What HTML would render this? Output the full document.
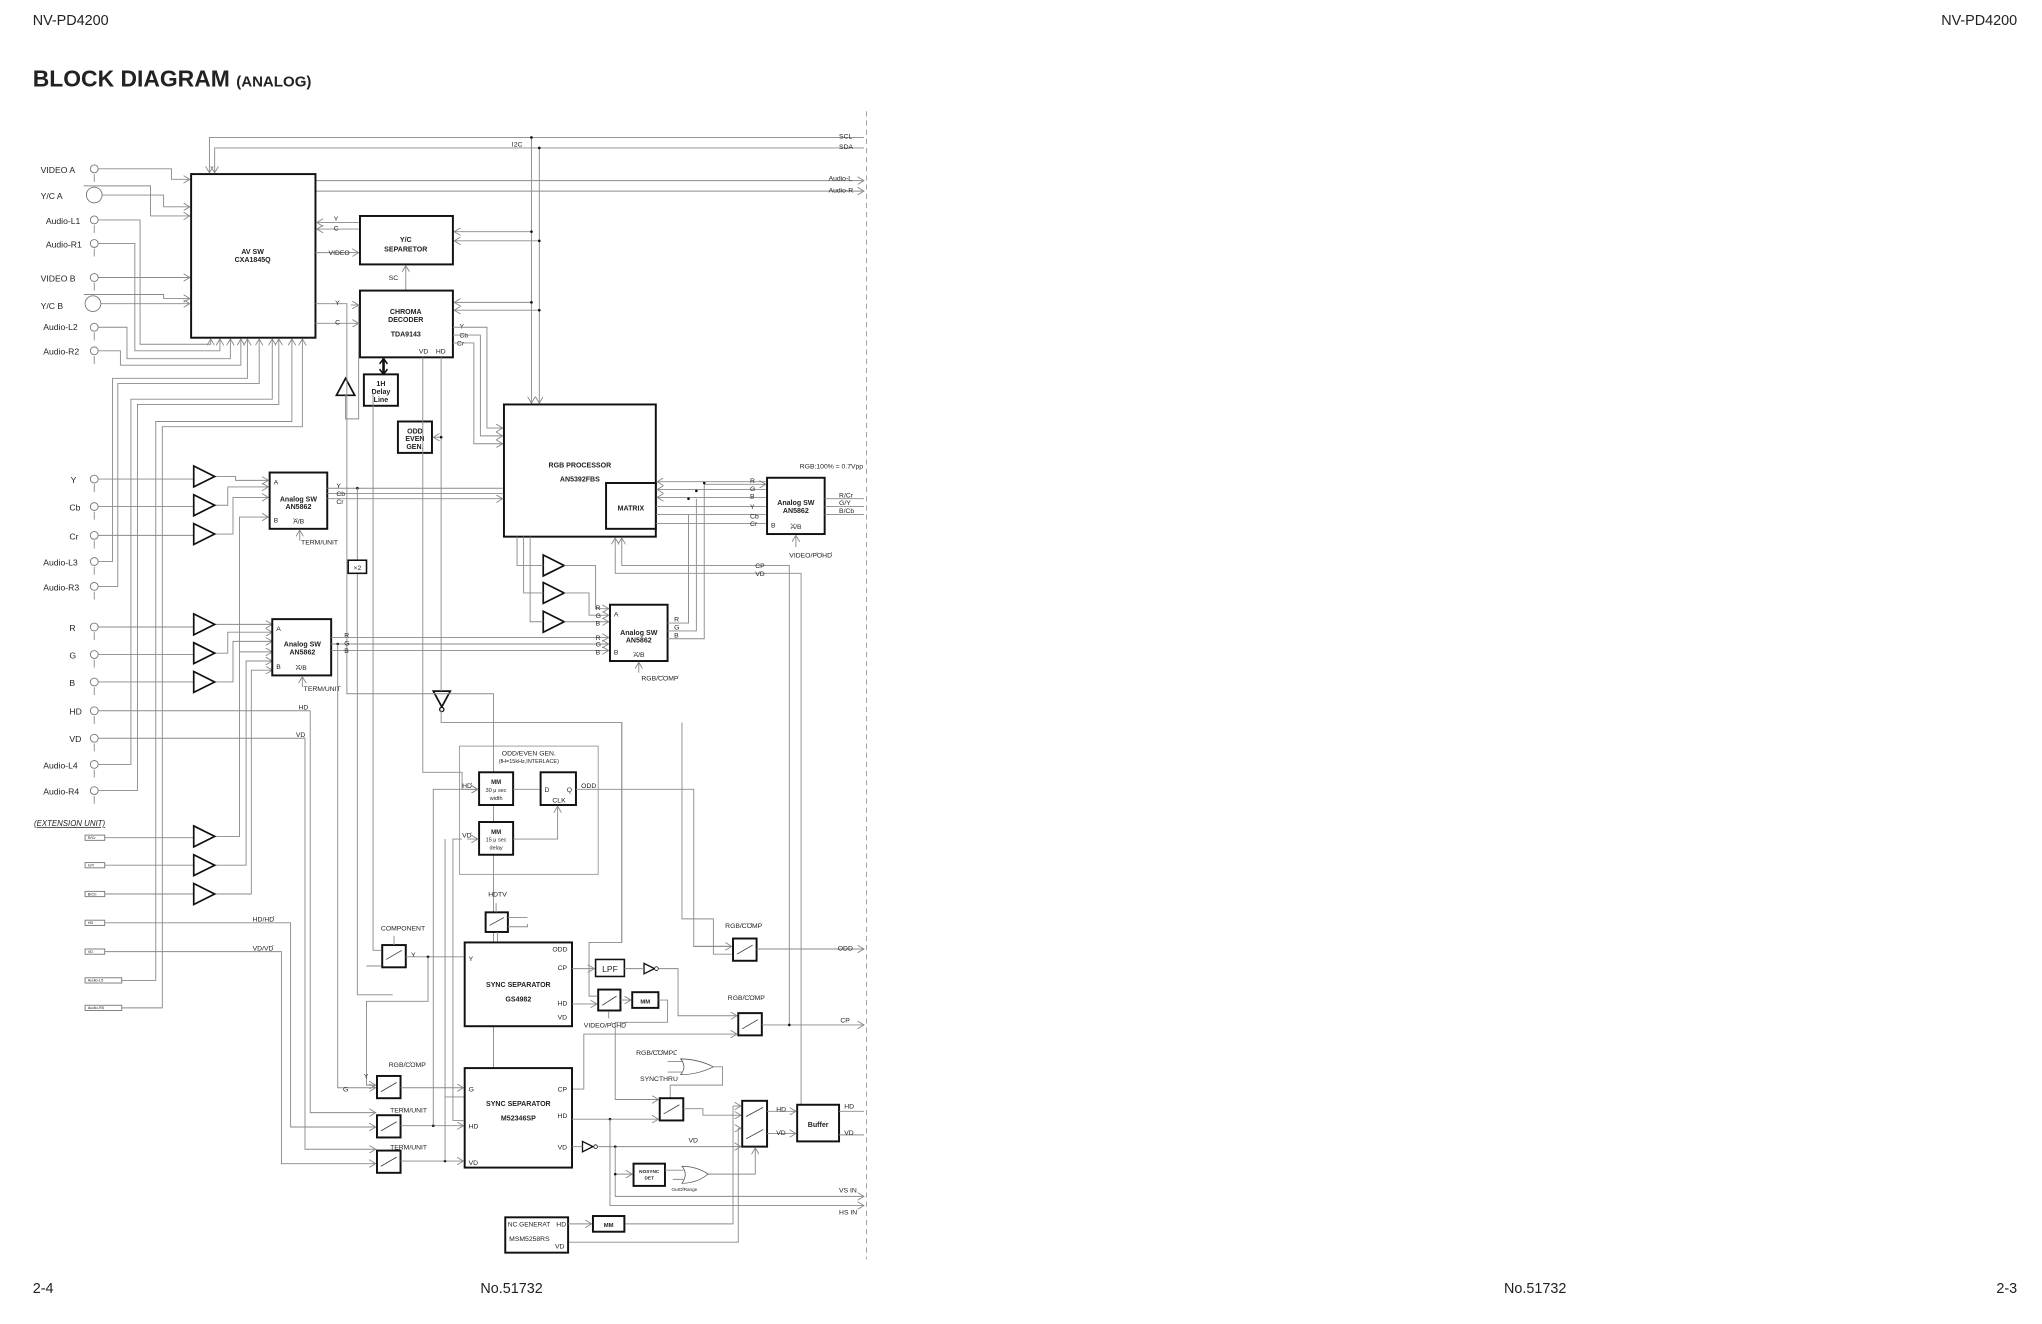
<!DOCTYPE html>
<html><head><meta charset="utf-8"><style>
html,body{margin:0;padding:0;background:#fff}
svg{display:block}
text{font-family:"Liberation Sans",sans-serif;fill:#222}
.w{fill:none;stroke:#8a8a8a;stroke-width:.7}
.b{fill:#fff;stroke:#111;stroke-width:1.5}
.t{font-size:5.2px}
.l{font-size:6.6px}
.bt{font-size:5.4px;font-weight:bold}
.tri{fill:#fff;stroke:#111;stroke-width:1.3}
</style></head><body>
<svg width="2042" height="1324" viewBox="0 0 1560 1011.5" preserveAspectRatio="none" xmlns="http://www.w3.org/2000/svg">
<defs>
<marker id="a" markerWidth="6" markerHeight="6" refX="5" refY="3" orient="auto" markerUnits="userSpaceOnUse"><path d="M0,0 L5,3 L0,6" fill="none" stroke="#888" stroke-width=".7"/></marker>
</defs>
<text x="25" y="19" style="font-size:11px">NV-PD4200</text>
<text x="1541" y="19" text-anchor="end" style="font-size:11px">NV-PD4200</text>
<text x="25" y="66" style="font-size:17.5px;font-weight:bold">BLOCK DIAGRAM <tspan style="font-size:11.5px">(ANALOG)</tspan></text>
<text x="25" y="988" style="font-size:11px">2-4</text>
<text x="367" y="988" style="font-size:11px">No.51732</text>
<text x="1149" y="988" style="font-size:11px">No.51732</text>
<text x="1541" y="988" text-anchor="end" style="font-size:11px">2-3</text>
<line x1="662" y1="85" x2="662" y2="962" stroke="#999" stroke-width=".7" stroke-dasharray="4,3"/>

<!-- top bus -->
<path class="w" d="M660,105 H160 V132" marker-end="url(#a)"/>
<path class="w" d="M660,113 H164 V132" marker-end="url(#a)"/>
<path class="w" d="M406,105 V308" marker-end="url(#a)"/>
<path class="w" d="M412,113 V308" marker-end="url(#a)"/>
<path class="w" d="M406,177 H347" marker-end="url(#a)"/><path class="w" d="M412,184 H347" marker-end="url(#a)"/>
<path class="w" d="M406,231 H347" marker-end="url(#a)"/><path class="w" d="M412,237 H347" marker-end="url(#a)"/>
<g fill="#111"><circle cx="406" cy="105" r="1"/><circle cx="412" cy="113" r="1"/><circle cx="406" cy="177" r="1"/><circle cx="412" cy="184" r="1"/><circle cx="406" cy="231" r="1"/><circle cx="412" cy="237" r="1"/></g>
<text x="641" y="106" class="t">SCL</text><text x="641" y="114" class="t">SDA</text><text x="391" y="112" class="t">I2C</text>
<path class="w" d="M241,138 H660" marker-end="url(#a)"/><path class="w" d="M241,146 H660" marker-end="url(#a)"/>
<text x="633" y="138" class="t">Audio-L</text><text x="633" y="147" class="t">Audio-R</text>

<!-- left inputs -->
<g class="l">
<text x="31" y="132">VIDEO A</text><text x="31" y="152">Y/C A</text><text x="35" y="171">Audio-L1</text><text x="35" y="189">Audio-R1</text>
<text x="31" y="215">VIDEO B</text><text x="31" y="236">Y/C B</text><text x="33" y="252">Audio-L2</text><text x="33" y="271">Audio-R2</text>
<text x="54" y="369">Y</text><text x="53" y="390">Cb</text><text x="53" y="412">Cr</text><text x="33" y="432">Audio-L3</text><text x="33" y="451">Audio-R3</text>
<text x="53" y="482">R</text><text x="53" y="503">G</text><text x="53" y="524">B</text><text x="53" y="546">HD</text><text x="53" y="567">VD</text>
<text x="33" y="587">Audio-L4</text><text x="33" y="607">Audio-R4</text>
</g>
<text x="26" y="631" style="font-size:6px;font-style:italic;text-decoration:underline">(EXTENSION UNIT)</text>
<g fill="#fff" stroke="#777" stroke-width=".7">
<circle cx="72" cy="129" r="3"/><circle cx="72" cy="149" r="6"/><circle cx="72" cy="168" r="3"/><circle cx="72" cy="186" r="3"/>
<circle cx="72" cy="212" r="3"/><circle cx="71" cy="232" r="6"/><circle cx="72" cy="250" r="3"/><circle cx="72" cy="268" r="3"/>
<circle cx="72" cy="366" r="3"/><circle cx="72" cy="387" r="3"/><circle cx="72" cy="409" r="3"/><circle cx="72" cy="429" r="3"/><circle cx="72" cy="448" r="3"/>
<circle cx="72" cy="479" r="3"/><circle cx="72" cy="500" r="3"/><circle cx="72" cy="521" r="3"/><circle cx="72" cy="543" r="3"/><circle cx="72" cy="564" r="3"/>
<circle cx="72" cy="584" r="3"/><circle cx="72" cy="604" r="3"/>
<rect x="65" y="638" width="15" height="4"/><rect x="65" y="659" width="15" height="4"/><rect x="65" y="681" width="15" height="4"/><rect x="65" y="703" width="15" height="4"/><rect x="65" y="725" width="15" height="4"/><rect x="65" y="747" width="28" height="4"/><rect x="65" y="768" width="28" height="4"/>
</g>
<g class="w">
<path d="M72,133 v6 M72,190 v6 M72,172 v6 M72,216 v6 M72,254 v6 M72,272 v6 M72,370 v6 M72,391 v6 M72,413 v6 M72,433 v6 M72,452 v6 M72,483 v6 M72,504 v6 M72,525 v6 M72,547 v6 M72,568 v6 M72,588 v6 M72,608 v6"/>
<path d="M75,129 H131 V137 H145" marker-end="url(#a)"/>
<path d="M78,149 H125 V158 H145" marker-end="url(#a)"/>
<path d="M64,142 H115 V165 H145" marker-end="url(#a)"/>
<path d="M75,212 H145" marker-end="url(#a)"/>
<path d="M64,225 H125 V228 H145" marker-end="url(#a)"/>
<path d="M77,232 H145" marker-end="url(#a)"/>
<path d="M75,168 H107 V263 H161 V259" marker-end="url(#a)"/>
<path d="M75,186 H103 V268 H168 V259" marker-end="url(#a)"/>
<path d="M75,250 H97 V274 H176 V259" marker-end="url(#a)"/>
<path d="M75,268 H92 V279 H184 V259" marker-end="url(#a)"/>
<path d="M75,429 H86 V289 H189 V259" marker-end="url(#a)"/>
<path d="M75,448 H90 V293 H198 V259" marker-end="url(#a)"/>
<path d="M75,584 H100 V305 H208 V259" marker-end="url(#a)"/>
<path d="M75,604 H105 V309 H213 V259" marker-end="url(#a)"/>
<path d="M93,749 H119 V322 H223 V259" marker-end="url(#a)"/>
<path d="M93,770 H124 V326 H231 V259" marker-end="url(#a)"/>
<path d="M75,366 H148 M75,387 H148 M75,409 H148 M75,479 H148 M75,500 H148 M75,521 H148 M80,640 H148 M80,661 H148 M80,683 H148"/>
<path d="M164,364 H180 V367 H205" marker-end="url(#a)"/>
<path d="M164,386 H174 V372 H205" marker-end="url(#a)"/>
<path d="M164,408 H178 V380 H205" marker-end="url(#a)"/>
<path d="M164,477 H208" marker-end="url(#a)"/>
<path d="M164,499 H174 V483 H208" marker-end="url(#a)"/>
<path d="M164,521 H178 V490 H208" marker-end="url(#a)"/>
<path d="M164,639 H183 V395 H205" marker-end="url(#a)"/>
<path d="M164,661 H188 V505 H208" marker-end="url(#a)"/>
<path d="M164,683 H192 V512 H208" marker-end="url(#a)"/>
<path d="M183,498 H208" marker-end="url(#a)"/>
<path d="M75,543 H237 V850 H287" marker-end="url(#a)"/>
<path d="M75,564 H233 V878 H287" marker-end="url(#a)"/>
<path d="M80,705 H222 V861 H287" marker-end="url(#a)"/>
<path d="M80,727 H215 V889 H287" marker-end="url(#a)"/>
</g>
<text x="228" y="542" class="t">HD</text><text x="226" y="563" class="t">VD</text>
<text x="193" y="704" class="t">HD/<tspan text-decoration="overline">HD</tspan></text><text x="193" y="726" class="t">VD/<tspan text-decoration="overline">VD</tspan></text>
<g style="font-size:3px" fill="#555"><text x="67" y="641">R/Cr</text><text x="67" y="662">G/Y</text><text x="67" y="684">B/Cb</text><text x="67" y="706">HD</text><text x="67" y="728">VD</text><text x="67" y="750">Audio-L5</text><text x="67" y="771">Audio-R5</text></g>

<!-- triangles -->
<g class="tri">
<path d="M148,356 L164,364 L148,372Z"/><path d="M148,378 L164,386 L148,394Z"/><path d="M148,400 L164,408 L148,416Z"/>
<path d="M148,469 L164,477 L148,485Z"/><path d="M148,491 L164,499 L148,507Z"/><path d="M148,513 L164,521 L148,529Z"/>
<path d="M148,631 L164,639 L148,647Z"/><path d="M148,653 L164,661 L148,669Z"/><path d="M148,675 L164,683 L148,691Z"/>
<path d="M415,424 L431,432 L415,440Z"/><path d="M415,445 L431,453 L415,461Z"/><path d="M415,467 L431,475 L415,483Z"/>
<path d="M257,302 L264,289 L271,302Z"/><path d="M331,528 L344,528 L337.5,540Z"/>
<path d="M492,736 L500,740 L492,744Z" stroke-width="1"/><path d="M445,872 L453,876 L445,880Z" stroke-width="1"/>
</g>
<circle cx="337.5" cy="542" r="1.6" fill="#fff" stroke="#111"/>

<!-- AV SW and middle blocks -->
<rect class="b" x="146" y="133" width="95" height="125"/>
<text x="193" y="194" class="bt" text-anchor="middle">AV SW</text><text x="193" y="200" class="bt" text-anchor="middle">CXA1845Q</text>
<path class="w" d="M274,170 H242" marker-end="url(#a)"/><path class="w" d="M274,175 H242" marker-end="url(#a)"/>
<path class="w" d="M241,193 H274" marker-end="url(#a)"/>
<text x="255" y="169" class="t">Y</text><text x="255" y="176" class="t">C</text><text x="251" y="195" class="t">VIDEO</text>
<rect class="b" x="275" y="165" width="71" height="37"/>
<text x="310" y="185" class="bt" text-anchor="middle">Y/C</text><text x="310" y="192" class="bt" text-anchor="middle">SEPARETOR</text>
<path class="w" d="M310,222 V203" marker-end="url(#a)"/><text x="297" y="214" class="t">SC</text>
<rect class="b" x="275" y="222" width="71" height="51"/>
<text x="310" y="240" class="bt" text-anchor="middle">CHROMA</text><text x="310" y="246" class="bt" text-anchor="middle">DECODER</text><text x="310" y="257" class="bt" text-anchor="middle">TDA9143</text>
<text x="320" y="270" class="t">VD</text><text x="333" y="270" class="t">HD</text>
<path class="w" d="M241,232 H265 V530 H377 V838 H340" /><text x="256" y="233" class="t">Y</text>
<path class="w" d="M241,247 H274" marker-end="url(#a)"/><text x="256" y="248" class="t">C</text>
<path class="w" d="M264,302 V320 H274 V233" /><path class="w" d="M268,233 H274" marker-end="url(#a)"/>
<path d="M293,274 V286" stroke="#111" stroke-width="2"/><path d="M290,278 L293,274 L296,278 M290,282 L293,286 L296,282" fill="none" stroke="#111" stroke-width="1.2"/>
<rect class="b" x="278" y="286" width="26" height="24"/>
<text x="291" y="295" class="bt" text-anchor="middle">1H</text><text x="291" y="301" class="bt" text-anchor="middle">Delay</text><text x="291" y="307" class="bt" text-anchor="middle">Line</text>
<rect class="b" x="304" y="322" width="26" height="24"/>
<text x="317" y="331" class="bt" text-anchor="middle">ODD</text><text x="317" y="337" class="bt" text-anchor="middle">EVEN</text><text x="317" y="343" class="bt" text-anchor="middle">GEN.</text>
<path class="w" d="M323,273 V590 H353 V603 H365" marker-end="url(#a)"/>
<path class="w" d="M337,273 V528"/><path class="w" d="M337,334 H331" marker-end="url(#a)"/><circle cx="337" cy="334" r="1" fill="#111"/>
<path class="w" d="M337,543 V552 H475 V720"/>
<text x="351" y="251" class="t">Y</text><text x="351" y="258" class="t">Cb</text><text x="349" y="264" class="t">Cr</text>
<path class="w" d="M346,250 H372 V327 H384" marker-end="url(#a)"/>
<path class="w" d="M346,256 H367 V333 H384" marker-end="url(#a)"/>
<path class="w" d="M346,262 H362 V339 H384" marker-end="url(#a)"/>
<text x="387" y="335" class="t">M1</text><text x="387" y="381" class="t">M2</text>

<!-- RGB processor -->
<rect class="b" x="385" y="309" width="116" height="101"/>
<text x="443" y="357" class="bt" text-anchor="middle">RGB PROCESSOR</text><text x="443" y="368" class="bt" text-anchor="middle">AN5392FBS</text>
<rect class="b" x="463" y="369" width="38" height="35"/><text x="482" y="390" class="bt" text-anchor="middle">MATRIX</text>

<!-- analog SW 1 -->
<rect class="b" x="206" y="361" width="44" height="43"/>
<text x="209" y="370" class="t">A</text><text x="209" y="399" class="t">B</text>
<text x="228" y="383" class="bt" text-anchor="middle">Analog SW</text><text x="228" y="389" class="bt" text-anchor="middle">AN5862</text><text x="224" y="400" class="t"><tspan text-decoration="overline">A</tspan>/B</text>
<path class="w" d="M229,413 V405" marker-end="url(#a)"/><text x="230" y="416" class="t"><tspan text-decoration="overline">TERM</tspan>/UNIT</text>
<path class="w" d="M250,373 H384 M250,377 H384" /><path class="w" d="M250,381 H384" marker-end="url(#a)"/>
<text x="257" y="373" class="t">Y</text><text x="257" y="379" class="t">Cb</text><text x="257" y="385" class="t">Cr</text>
<circle cx="273" cy="373" r="1" fill="#111"/><path class="w" d="M273,373 V428 M273,438 V760 H300"/>
<rect x="266" y="428" width="14" height="10" fill="#fff" stroke="#111" stroke-width="1.2"/><text x="273" y="435.5" class="t" text-anchor="middle">×2</text>

<!-- analog SW 2 -->
<rect class="b" x="208" y="473" width="45" height="43"/>
<text x="211" y="482" class="t">A</text><text x="211" y="511" class="t">B</text>
<text x="231" y="494" class="bt" text-anchor="middle">Analog SW</text><text x="231" y="500" class="bt" text-anchor="middle">AN5862</text><text x="226" y="512" class="t"><tspan text-decoration="overline">A</tspan>/B</text>
<path class="w" d="M231,525 V517" marker-end="url(#a)"/><text x="232" y="528" class="t"><tspan text-decoration="overline">TERM</tspan>/UNIT</text>
<path class="w" d="M253,487 H465" marker-end="url(#a)"/><path class="w" d="M253,492 H465" marker-end="url(#a)"/><path class="w" d="M253,497 H465" marker-end="url(#a)"/>
<text x="263" y="487" class="t">R</text><text x="263" y="493" class="t">G</text><text x="263" y="499" class="t">B</text>
<circle cx="258" cy="492" r="1" fill="#111"/><path class="w" d="M258,492 V831 H287" marker-end="url(#a)"/><text x="262" y="834" class="t">G</text>

<!-- RGB proc bottom to triangles -->
<path class="w" d="M395,410 V432 H415 M400,410 V453 H415 M405,410 V475 H415"/>
<path class="w" d="M431,432 H455 V465 H465" marker-end="url(#a)"/>
<path class="w" d="M431,453 H450 V470 H465" marker-end="url(#a)"/>
<path class="w" d="M431,475 H465" marker-end="url(#a)"/>
<text x="455" y="466" class="t">R</text><text x="455" y="472" class="t">G</text><text x="455" y="478" class="t">B</text>
<text x="455" y="489" class="t">R</text><text x="455" y="494" class="t">G</text><text x="455" y="500" class="t">B</text>
<rect class="b" x="466" y="462" width="44" height="43"/>
<text x="469" y="471" class="t">A</text><text x="469" y="500" class="t">B</text>
<text x="488" y="485" class="bt" text-anchor="middle">Analog SW</text><text x="488" y="491" class="bt" text-anchor="middle">AN5862</text><text x="484" y="502" class="t"><tspan text-decoration="overline">A</tspan>/B</text>
<path class="w" d="M488,514 V506" marker-end="url(#a)"/><text x="490" y="520" class="t">RGB/<tspan text-decoration="overline">COMP</tspan></text>
<text x="515" y="475" class="t">R</text><text x="515" y="481" class="t">G</text><text x="515" y="487" class="t">B</text>
<path class="w" d="M510,476 H526 V393 M510,482 H532 V381 M510,488 H538 V370"/>
<path class="w" d="M585,368 H502" marker-end="url(#a)"/><path class="w" d="M585,374 H502" marker-end="url(#a)"/><path class="w" d="M585,380 H502" marker-end="url(#a)"/>
<path class="w" d="M538,370 H585" marker-end="url(#a)"/>
<path class="w" d="M501,387 H585 M501,393 H585 M501,400 H585"/>
<g fill="#111"><circle cx="538" cy="369" r="1"/><circle cx="532" cy="375" r="1"/><circle cx="526" cy="381" r="1"/></g>
<text x="573" y="369" class="t">R</text><text x="573" y="375" class="t">G</text><text x="573" y="381" class="t">B</text><text x="573" y="389" class="t">Y</text><text x="573" y="396" class="t">Cb</text><text x="573" y="402" class="t">Cr</text>
<rect class="b" x="586" y="365" width="44" height="43"/>
<text x="589" y="403" class="t">B</text>
<text x="608" y="386" class="bt" text-anchor="middle">Analog SW</text><text x="608" y="392" class="bt" text-anchor="middle">AN5862</text><text x="604" y="404" class="t"><tspan text-decoration="overline">A</tspan>/B</text>
<path class="w" d="M608,418 V409" marker-end="url(#a)"/><text x="603" y="426" class="t">VIDEO/<tspan text-decoration="overline">POHD</tspan></text>
<text x="611" y="358" class="t">RGB:100% = 0.7Vpp</text>
<path class="w" d="M630,381 H660 M630,387 H660 M630,393 H660"/>
<text x="641" y="380" class="t">R/Cr</text><text x="641" y="386" class="t">G/Y</text><text x="641" y="392" class="t">B/Cb</text>
<path class="w" d="M603,784 V432 H475 V411" marker-end="url(#a)"/>
<path class="w" d="M612,872 V438 H470 V411" marker-end="url(#a)"/>
<text x="577" y="434" class="t">CP</text><text x="577" y="440" class="t">VD</text>

<!-- ODD/EVEN GEN -->
<rect x="351" y="570" width="106" height="98" fill="none" stroke="#999" stroke-width=".7"/>
<text x="404" y="577" class="t" text-anchor="middle">ODD/EVEN GEN.</text><text x="404" y="583" style="font-size:4.2px" text-anchor="middle">(fH=15kHz,INTERLACE)</text>
<rect class="b" x="366" y="590" width="26" height="25"/>
<text x="379" y="599" style="font-size:4.6px;font-weight:bold" text-anchor="middle">MM</text><text x="379" y="605" style="font-size:4.2px" text-anchor="middle">30 μ sec</text><text x="379" y="611" style="font-size:4.2px" text-anchor="middle">width</text>
<rect class="b" x="413" y="590" width="27" height="25"/>
<text x="416" y="605" class="t">D</text><text x="433" y="605" class="t">Q</text><text x="422" y="613" class="t">CLK</text>
<rect class="b" x="366" y="628" width="26" height="25"/>
<text x="379" y="637" style="font-size:4.6px;font-weight:bold" text-anchor="middle">MM</text><text x="379" y="643" style="font-size:4.2px" text-anchor="middle">15 μ sec</text><text x="379" y="649" style="font-size:4.2px" text-anchor="middle">delay</text>
<text x="353" y="602" class="t"><tspan text-decoration="overline">HD</tspan></text><text x="353" y="640" class="t"><tspan text-decoration="overline">VD</tspan></text>
<path class="w" d="M392,603 H412"/><path class="w" d="M392,641 H426 V616" marker-end="url(#a)"/>
<path class="w" d="M357,641 H365" marker-end="url(#a)"/><path class="w" d="M353,641 H346 V856 H354" />
<path class="w" d="M440,603 H530 V723 H559" marker-end="url(#a)"/><text x="444" y="602" class="t">ODD</text>

<!-- HDTV -->
<text x="373" y="685" class="t">HDTV</text>
<rect class="b" x="371" y="697" width="17" height="15" stroke-width="1.2"/><path d="M374,707 L385,701" stroke="#333" stroke-width=".6"/>
<path class="w" d="M379,690 V697 M388,701 H403 M388,708 H403 V706 M380,712 V720"/>
<!-- COMPONENT -->
<text x="291" y="711" class="t">COMPONENT</text>
<rect class="b" x="292" y="722" width="18" height="17" stroke-width="1.2"/><path d="M295,733 L307,726" stroke="#333" stroke-width=".6"/>
<path class="w" d="M301,715 V722 M285,300 V726 H291 M280,738 H291 M310,731 H354" />
<text x="314" y="731" class="t">Y</text><circle cx="327" cy="731" r="1" fill="#111"/>
<path class="w" d="M327,731 V765 H280 V829 H287" marker-end="url(#a)"/><text x="278" y="824" class="t">Y</text>

<!-- SYNC GS4982 -->
<rect class="b" x="355" y="720" width="82" height="64"/>
<text x="358" y="734" class="t">Y</text><text x="422" y="727" class="t">ODD</text><text x="426" y="741" class="t">CP</text><text x="426" y="768" class="t">HD</text><text x="426" y="779" class="t">VD</text>
<text x="396" y="754" class="bt" text-anchor="middle">SYNC SEPARATOR</text><text x="396" y="765" class="bt" text-anchor="middle">GS4982</text>
<path class="w" d="M437,740 H454" marker-end="url(#a)"/>
<rect x="455" y="733" width="22" height="13" fill="#fff" stroke="#111" stroke-width="1.2"/><text x="466" y="742.5" style="font-size:6.5px" text-anchor="middle">LPF</text>
<path class="w" d="M477,740 H491"/><circle cx="501.5" cy="740" r="1.4" fill="#fff" stroke="#111" stroke-width=".6"/>
<path class="w" d="M503,740 H518 V776 H563" marker-end="url(#a)"/>
<path class="w" d="M437,767 H456" marker-end="url(#a)"/>
<rect class="b" x="457" y="756" width="17" height="16" stroke-width="1.2"/><path d="M460,768 L471,761" stroke="#333" stroke-width=".6"/>
<path class="w" d="M475,552 V720 H450 V761 H456" />
<path class="w" d="M474,764 H482" marker-end="url(#a)"/>
<rect class="b" x="483" y="758" width="20" height="12" stroke-width="1.2"/><text x="493" y="766.5" style="font-size:4.5px;font-weight:bold" text-anchor="middle">MM</text>
<path class="w" d="M503,764 H510 V781 H470 V840 H503" marker-end="url(#a)"/>
<text x="446" y="785" class="t">VIDEO/<tspan text-decoration="overline">PCHD</tspan></text><path class="w" d="M465,778 V773"/>

<!-- RGB/COMP switches -->
<text x="554" y="709" class="t">RGB/<tspan text-decoration="overline">COMP</tspan></text>
<rect class="b" x="560" y="717" width="18" height="17" stroke-width="1.2"/><path d="M563,729 L575,722" stroke="#333" stroke-width=".6"/>
<path class="w" d="M578,725 H660" marker-end="url(#a)"/><text x="640" y="726" class="t">ODD</text>
<path class="w" d="M530,723 H559 M521,552 V702 H545 V729 H559"/>
<text x="556" y="764" class="t">RGB/<tspan text-decoration="overline">COMP</tspan></text>
<rect class="b" x="564" y="774" width="18" height="17" stroke-width="1.2"/><path d="M567,786 L579,779" stroke="#333" stroke-width=".6"/>
<path class="w" d="M582,783 H660" marker-end="url(#a)"/><text x="642" y="781" class="t">CP</text><circle cx="603" cy="783" r="1" fill="#111"/>
<path class="w" d="M437,832 H446 V790 H563" marker-end="url(#a)"/>

<!-- TERM switches -->
<text x="297" y="815" class="t">RGB/<tspan text-decoration="overline">COMP</tspan></text>
<rect class="b" x="288" y="822" width="18" height="17" stroke-width="1.2"/><path d="M291,834 L303,827" stroke="#333" stroke-width=".6"/>
<path class="w" d="M306,831 H354" marker-end="url(#a)"/>
<rect class="b" x="288" y="852" width="18" height="17" stroke-width="1.2"/><path d="M291,864 L303,857" stroke="#333" stroke-width=".6"/>
<text x="298" y="850" class="t"><tspan text-decoration="overline">TERM</tspan>/UNIT</text>
<path class="w" d="M306,860 H354" marker-end="url(#a)"/><circle cx="331" cy="860" r="1" fill="#111"/>
<rect class="b" x="288" y="879" width="18" height="17" stroke-width="1.2"/><path d="M291,891 L303,884" stroke="#333" stroke-width=".6"/>
<text x="298" y="878" class="t"><tspan text-decoration="overline">TERM</tspan>/UNIT</text>
<path class="w" d="M306,887 H354" marker-end="url(#a)"/><circle cx="340" cy="887" r="1" fill="#111"/>
<path class="w" d="M331,860 V603 H365" marker-end="url(#a)"/>
<path class="w" d="M340,887 V641"/>

<!-- M52346SP -->
<rect class="b" x="355" y="816" width="82" height="76"/>
<text x="358" y="834" class="t">G</text><text x="358" y="862" class="t">HD</text><text x="358" y="890" class="t">VD</text>
<text x="426" y="834" class="t">CP</text><text x="426" y="854" class="t">HD</text><text x="426" y="878" class="t">VD</text>
<text x="396" y="845" class="bt" text-anchor="middle">SYNC SEPARATOR</text><text x="396" y="856" class="bt" text-anchor="middle">M52346SP</text>
<path class="w" d="M437,876 H445"/><circle cx="455" cy="876" r="1.4" fill="#fff" stroke="#111" stroke-width=".6"/>
<path class="w" d="M437,855 H503" marker-end="url(#a)"/><circle cx="466" cy="855" r="1" fill="#111"/>
<path class="w" d="M457,876 H566" marker-end="url(#a)"/><text x="526" y="873" class="t">VD</text><circle cx="470" cy="876" r="1" fill="#111"/>
<path class="w" d="M470,876 V914 H660" marker-end="url(#a)"/><text x="641" y="911" class="t">VS IN</text>
<path class="w" d="M466,855 V921 H660" marker-end="url(#a)"/><text x="641" y="928" class="t">HS IN</text>
<path class="w" d="M470,897 H483" marker-end="url(#a)"/><circle cx="470" cy="897" r="1" fill="#111"/>

<!-- OR gate 1 -->
<text x="486" y="806" class="t">RGB/<tspan text-decoration="overline">COMPL</tspan></text><text x="489" y="826" class="t">SYNCTHRU</text>
<path d="M520,809 Q533,809 545,815 Q533,821 520,821 Q525,815 520,809Z" fill="#fff" stroke="#555" stroke-width=".6"/>
<path class="w" d="M510,811 H521 M510,819 H521 M545,815 H552 V829 H512 V839"/>
<rect class="b" x="504" y="839" width="18" height="17" stroke-width="1.2"/><path d="M507,851 L519,844" stroke="#333" stroke-width=".6"/>
<path class="w" d="M522,847 H537 V852 H566" marker-end="url(#a)"/>
<!-- big switch -->
<rect class="b" x="567" y="841" width="19" height="35" stroke-width="1.2"/>
<path d="M570,853 L583,846 M570,870 L583,863" stroke="#333" stroke-width=".6"/>
<path class="w" d="M560,845 H566" marker-end="url(#a)"/><path class="w" d="M560,845 V935 H477"/>
<path class="w" d="M564,862 H566" marker-end="url(#a)"/><path class="w" d="M564,862 V949 H434"/>
<path class="w" d="M540,897 H577 V877" marker-end="url(#a)"/>
<path class="w" d="M586,849 H608" marker-end="url(#a)"/><path class="w" d="M586,866 H608" marker-end="url(#a)"/>
<text x="593" y="849" class="t">HD</text><text x="593" y="867" class="t">VD</text>
<rect class="b" x="609" y="844" width="32" height="28"/><text x="625" y="861" class="bt" text-anchor="middle">Buffer</text>
<path class="w" d="M641,849 H660 M641,867 H660"/><text x="645" y="847" class="t">HD</text><text x="645" y="867" class="t">VD</text>
<!-- NOSYNC -->
<rect class="b" x="484" y="889" width="24" height="17" stroke-width="1.2"/><text x="496" y="896" style="font-size:3.6px;font-weight:bold" text-anchor="middle">NOSYNC</text><text x="496" y="901" style="font-size:3.6px;font-weight:bold" text-anchor="middle">DET</text>
<path d="M521,891 Q532,891 541,897 Q532,904 521,904 Q526,897 521,891Z" fill="#fff" stroke="#555" stroke-width=".6"/>
<path class="w" d="M508,894 H522 M514,901 H522"/><text x="513" y="910" style="font-size:3.5px">OutOfRange</text>
<!-- NC generator -->
<rect class="b" x="386" y="930" width="48" height="27"/>
<text x="388" y="937" style="font-size:5px">NC GENERAT</text><text x="425" y="937" class="t">HD</text><text x="389" y="948" class="t">MSM5258RS</text><text x="424" y="954" class="t">VD</text>
<path class="w" d="M434,935 H452" marker-end="url(#a)"/>
<rect class="b" x="453" y="929" width="24" height="12" stroke-width="1.2"/><text x="465" y="937.5" style="font-size:4.5px;font-weight:bold" text-anchor="middle">MM</text>
</svg>
</body></html>
